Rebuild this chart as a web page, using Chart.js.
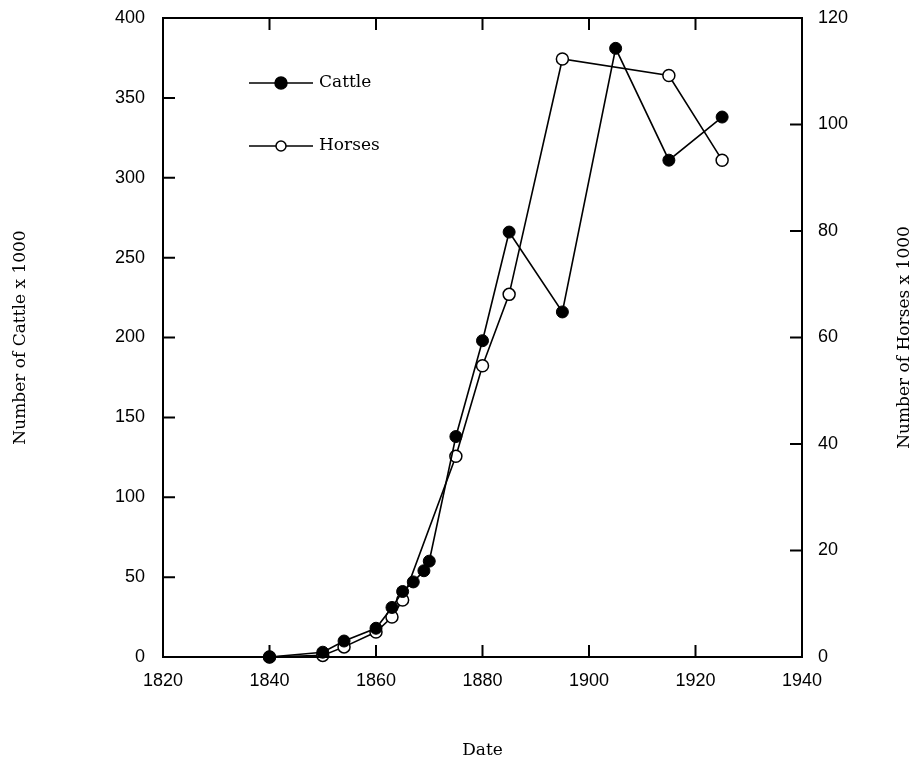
<!DOCTYPE html>
<html>
<head>
<meta charset="utf-8">
<script src="https://cdn.jsdelivr.net/npm/chart.js@4.4.0/dist/chart.umd.min.js"></script>
<style>
  html, body { margin: 0; padding: 0; background: #fff; }
  #wrap { width: 916px; height: 763px; }
</style>
</head>
<body>
<div id="wrap"><canvas id="herdChart" width="916" height="763"></canvas></div>
<script>
// values
const cattleYears  = [1840, 1850, 1854, 1860, 1863, 1865, 1867, 1869, 1870, 1875, 1880, 1885, 1895, 1905, 1915, 1925];
const cattleValues = [0, 3, 10, 18, 31, 41, 47, 54, 60, 138, 198, 266, 216, 381, 311, 338];
const horseYears   = [1840, 1850, 1854, 1860, 1863, 1865, 1875, 1880, 1885, 1895, 1915, 1925];
const horseValues  = [0, 0.3, 1.9, 4.7, 7.5, 10.7, 37.7, 54.7, 68.1, 112.3, 109.2, 93.3];

const dateTicks   = [1820, 1840, 1860, 1880, 1900, 1920, 1940];
const cattleTicks = [0, 50, 100, 150, 200, 250, 300, 350, 400];
const horseTicks  = [0, 20, 40, 60, 80, 100, 120];

const serif = 'DejaVu Serif';
const sans = 'Liberation Sans';

function pairs(xs, ys) {
    return xs.map((x, i) => ({ x: x, y: ys[i] }));
}

function useTicks(list) {
    return function(scale) {
        scale.ticks = list.map(v => ({ value: v }));
    };
}

// fixed box sizes so the plot frame sits where the original has it
function fixWidth(w) {
    return function(scale) {
        scale.width = w;
        scale.paddingTop = 0;
        scale.paddingBottom = 0;
    };
}

// frame, inward tick marks, legend and right-hand title
const decorations = {
    id: 'decorations',
    afterDraw(chart) {
        const ctx = chart.ctx;
        const a = chart.chartArea;
        const sx = chart.scales.x;
        const sy = chart.scales.y;
        const sh = chart.scales.y1;
        const len = 12;

        ctx.save();
        ctx.strokeStyle = '#000';
        ctx.lineWidth = 2;
        ctx.strokeRect(a.left, a.top, a.right - a.left, a.bottom - a.top);

        ctx.beginPath();
        sx.ticks.forEach(t => {
            const px = sx.getPixelForValue(t.value);
            ctx.moveTo(px, a.bottom); ctx.lineTo(px, a.bottom - len);
            ctx.moveTo(px, a.top); ctx.lineTo(px, a.top + len);
        });
        sy.ticks.forEach(t => {
            const py = sy.getPixelForValue(t.value);
            ctx.moveTo(a.left, py); ctx.lineTo(a.left + len, py);
        });
        sh.ticks.forEach(t => {
            const py = sh.getPixelForValue(t.value);
            ctx.moveTo(a.right, py); ctx.lineTo(a.right - len, py);
        });
        ctx.stroke();

        // legend: line sample with marker
        const rows = [
            { ds: chart.data.datasets[0], y: 83, r: 6 },
            { ds: chart.data.datasets[1], y: 146, r: 5 }
        ];
        rows.forEach(row => {
            ctx.lineWidth = 1.5;
            ctx.strokeStyle = row.ds.borderColor;
            ctx.beginPath();
            ctx.moveTo(249, row.y); ctx.lineTo(313, row.y);
            ctx.stroke();
            ctx.beginPath();
            ctx.arc(281, row.y, row.r, 0, Math.PI * 2);
            ctx.fillStyle = row.ds.pointBackgroundColor;
            ctx.fill();
            ctx.stroke();
            ctx.fillStyle = '#000';
            ctx.font = '17px "' + serif + '"';
            ctx.textAlign = 'left';
            ctx.textBaseline = 'middle';
            ctx.fillText(row.ds.label, 319, row.y);
        });

        // right axis title reads bottom to top like the left one
        ctx.translate(905, (a.top + a.bottom) / 2);
        ctx.rotate(-Math.PI / 2);
        ctx.textAlign = 'center';
        ctx.textBaseline = 'middle';
        ctx.font = '17px "' + serif + '"';
        ctx.fillText('Number of Horses x 1000', 0, 0);
        ctx.restore();
    }
};

const ctx = document.getElementById('herdChart').getContext('2d');
const herdChart = new Chart(ctx, {
    type: 'line',
    data: {
        datasets: [{
            label: 'Cattle',
            data: pairs(cattleYears, cattleValues),
            yAxisID: 'y',
            borderColor: '#000',
            borderWidth: 1.6,
            pointRadius: 6,
            pointBackgroundColor: '#000',
            pointBorderColor: '#000',
            pointBorderWidth: 1,
            tension: 0,
            clip: false
        }, {
            label: 'Horses',
            data: pairs(horseYears, horseValues),
            yAxisID: 'y1',
            borderColor: '#000',
            borderWidth: 1.6,
            pointRadius: 6,
            pointBackgroundColor: '#fff',
            pointBorderColor: '#000',
            pointBorderWidth: 1.5,
            tension: 0,
            clip: false
        }]
    },
    options: {
        responsive: false,
        animation: false,
        events: [],
        layout: { padding: { top: 18, left: 0, right: 0, bottom: 0 } },
        plugins: {
            legend: { display: false },
            tooltip: { enabled: false }
        },
        scales: {
            x: {
                type: 'linear',
                position: 'bottom',
                min: 1820,
                max: 1940,
                afterBuildTicks: useTicks(dateTicks),
                afterFit: s => { s.height = 106; s.paddingLeft = 0; s.paddingRight = 0; },
                grid: { display: false, drawTicks: false },
                border: { display: false },
                ticks: {
                    padding: 13,
                    color: '#000',
                    font: { family: sans, size: 18 },
                    callback: v => String(v)
                },
                title: {
                    display: true,
                    text: 'Date',
                    color: '#000',
                    font: { family: serif, size: 17 },
                    padding: { top: 0, bottom: 2 }
                }
            },
            y: {
                type: 'linear',
                position: 'left',
                min: 0,
                max: 400,
                afterBuildTicks: useTicks(cattleTicks),
                afterFit: fixWidth(163),
                grid: { display: false, drawTicks: false },
                border: { display: false },
                ticks: {
                    padding: 18,
                    color: '#000',
                    font: { family: sans, size: 18 },
                    callback: v => String(v)
                },
                title: {
                    display: true,
                    text: 'Number of Cattle x 1000',
                    color: '#000',
                    font: { family: serif, size: 17 },
                    padding: { top: 10, bottom: 0 }
                }
            },
            y1: {
                type: 'linear',
                position: 'right',
                min: 0,
                max: 120,
                afterBuildTicks: useTicks(horseTicks),
                afterFit: fixWidth(114),
                grid: { display: false, drawTicks: false },
                border: { display: false },
                ticks: {
                    padding: 16,
                    color: '#000',
                    font: { family: sans, size: 18 },
                    callback: v => String(v)
                }
            }
        }
    },
    plugins: [decorations]
});
</script>
</body>
</html>
